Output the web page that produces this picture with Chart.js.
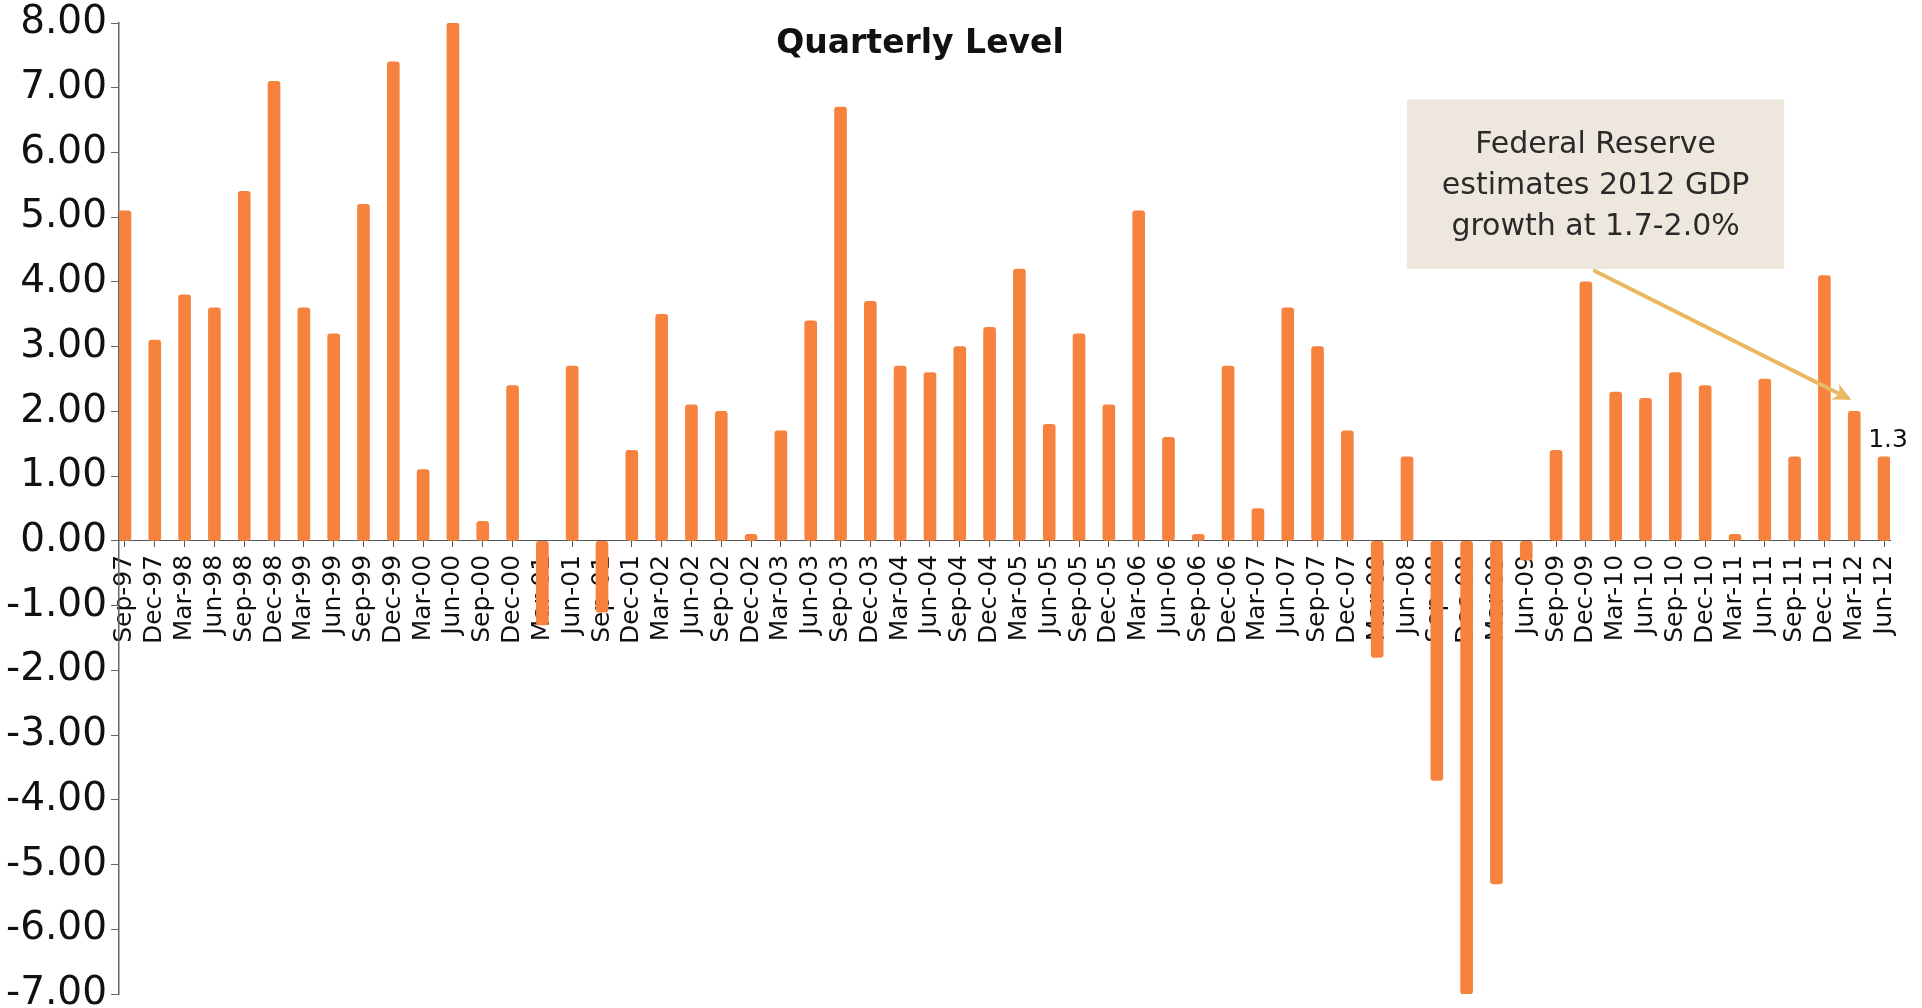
<!DOCTYPE html>
<html>
<head>
<meta charset="utf-8">
<title>Quarterly Level</title>
<script src="https://cdn.jsdelivr.net/npm/chart.js@4.4.1/dist/chart.umd.min.js"></script>
<style>
  html, body { margin: 0; padding: 0; background: #fff; }
  #wrap { position: relative; width: 1922px; height: 1008px; }
</style>
</head>
<body>
<div id="wrap"><canvas id="graph"></canvas></div>
<script>
// quarter labels, Sep-97 .. Jun-12
const quarters = [
  'Sep-97','Dec-97','Mar-98','Jun-98','Sep-98','Dec-98','Mar-99','Jun-99','Sep-99','Dec-99',
  'Mar-00','Jun-00','Sep-00','Dec-00','Mar-01','Jun-01','Sep-01','Dec-01','Mar-02','Jun-02',
  'Sep-02','Dec-02','Mar-03','Jun-03','Sep-03','Dec-03','Mar-04','Jun-04','Sep-04','Dec-04',
  'Mar-05','Jun-05','Sep-05','Dec-05','Mar-06','Jun-06','Sep-06','Dec-06','Mar-07','Jun-07',
  'Sep-07','Dec-07','Mar-08','Jun-08','Sep-08','Dec-08','Mar-09','Jun-09','Sep-09','Dec-09',
  'Mar-10','Jun-10','Sep-10','Dec-10','Mar-11','Jun-11','Sep-11','Dec-11','Mar-12','Jun-12'
];

// quarterly GDP growth, annualised %
const gdpGrowth = [
  5.1, 3.1, 3.8, 3.6, 5.4, 7.1, 3.6, 3.2, 5.2, 7.4,
  1.1, 8.0, 0.3, 2.4, -1.3, 2.7, -1.1, 1.4, 3.5, 2.1,
  2.0, 0.1, 1.7, 3.4, 6.7, 3.7, 2.7, 2.6, 3.0, 3.3,
  4.2, 1.8, 3.2, 2.1, 5.1, 1.6, 0.1, 2.7, 0.5, 3.6,
  3.0, 1.7, -1.8, 1.3, -3.7, -7.0, -5.3, -0.3, 1.4, 4.0,
  2.3, 2.2, 2.6, 2.4, 0.1, 2.5, 1.3, 4.1, 2.0, 1.3
];

const yTicks = [-7, -6, -5, -4, -3, -2, -1, 0, 1, 2, 3, 4, 5, 6, 7, 8];

const chartTitle = 'Quarterly Level';
const noteLines = ['Federal Reserve', 'estimates 2012 GDP', 'growth at 1.7-2.0%'];

const FONT = '"DejaVu Sans", Verdana, sans-serif';
const ORANGE = '#F6823E';

// callout placement in scale units (category index, value)
const note = {
  box: { x0: 43.0, x1: 55.65, y0: 6.82, y1: 4.2 },
  arrowFrom: { x: 49.3, y: 4.17 },
  arrowTo: { x: 57.9, y: 2.18 }
};

const extras = {
  id: 'extras',
  afterDatasetsDraw(chart) {
    const { ctx, scales: { x, y } } = chart;
    ctx.save();

    // title
    ctx.fillStyle = '#111';
    ctx.font = 'bold 33px ' + FONT;
    ctx.textAlign = 'center';
    ctx.textBaseline = 'middle';
    ctx.fillText(chartTitle, 920, 44);

    // callout box
    const bx0 = x.getPixelForValue(note.box.x0), bx1 = x.getPixelForValue(note.box.x1);
    const by0 = y.getPixelForValue(note.box.y0), by1 = y.getPixelForValue(note.box.y1);
    ctx.fillStyle = '#EEE7DD';
    ctx.fillRect(bx0, by0, bx1 - bx0, by1 - by0);
    ctx.fillStyle = '#2a2a2a';
    ctx.font = '30px ' + FONT;
    const cx = (bx0 + bx1) / 2;
    noteLines.forEach((line, i) => {
      ctx.fillText(line, cx, by0 + 46 + i * 41);
    });

    // arrow
    const ax0 = x.getPixelForValue(note.arrowFrom.x), ay0 = y.getPixelForValue(note.arrowFrom.y);
    const ax1 = x.getPixelForValue(note.arrowTo.x), ay1 = y.getPixelForValue(note.arrowTo.y);
    const ang = Math.atan2(ay1 - ay0, ax1 - ax0);
    ctx.strokeStyle = '#E8B862';
    ctx.lineWidth = 4;
    ctx.lineCap = 'round';
    ctx.beginPath();
    ctx.moveTo(ax0, ay0);
    ctx.lineTo(ax1 - 4 * Math.cos(ang), ay1 - 4 * Math.sin(ang));
    ctx.stroke();
    ctx.fillStyle = '#E8B862';
    ctx.beginPath();
    ctx.moveTo(ax1, ay1);
    ctx.lineTo(ax1 - 20 * Math.cos(ang - 0.45), ay1 - 20 * Math.sin(ang - 0.45));
    ctx.lineTo(ax1 - 13 * Math.cos(ang), ay1 - 13 * Math.sin(ang));
    ctx.lineTo(ax1 - 20 * Math.cos(ang + 0.45), ay1 - 20 * Math.sin(ang + 0.45));
    ctx.closePath();
    ctx.fill();

    // value label on the latest quarter
    const meta = chart.getDatasetMeta(0);
    const last = meta.data[meta.data.length - 1];
    ctx.fillStyle = '#111';
    ctx.font = '25px ' + FONT;
    ctx.textBaseline = 'alphabetic';
    ctx.fillText(gdpGrowth[gdpGrowth.length - 1].toFixed(1), last.x + 4, last.y - 10);

    ctx.restore();
  }
};

const cfg = {
  type: 'bar',
  data: {
    datasets: [{
      label: 'GDP growth',
      data: gdpGrowth.map((v, i) => ({ x: i, y: v })),
      backgroundColor: ORANGE,
      borderWidth: 0,
      barThickness: 12,
      borderRadius: 3,
      borderSkipped: false
    }]
  },
  options: {
    responsive: true,
    maintainAspectRatio: false,
    animation: false,
    layout: { padding: { top: 23, right: 32, bottom: 14, left: 0 } },
    plugins: {
      legend: { display: false },
      title: { display: false },
      tooltip: { enabled: false }
    },
    scales: {
      x: {
        type: 'linear',
        position: { y: 0 },
        offset: false,
        min: -0.2,
        max: 59.2,
        afterFit(scale) {
          scale.height = 0;
          scale.paddingLeft = 0;
          scale.paddingRight = 0;
        },
        grid: { offset: false, drawOnChartArea: false, tickLength: 6, color: '#555' },
        border: { display: true, color: '#555', width: 1 },
        ticks: {
          stepSize: 1,
          includeBounds: false,
          autoSkip: false,
          maxTicksLimit: 100,
          minRotation: 90,
          maxRotation: 90,
          padding: 8,
          color: '#111',
          font: { family: FONT, size: 25 },
          callback: v => Number.isInteger(v) ? quarters[v] : ''
        }
      },
      y: {
        min: yTicks[0],
        max: yTicks[yTicks.length - 1],
        afterFit(scale) {
          scale.width = 119;
          scale.paddingTop = 0;
          scale.paddingBottom = 0;
        },
        grid: { drawOnChartArea: false, tickLength: 8, color: '#666' },
        border: { display: true, color: '#666', width: 1.5 },
        ticks: {
          stepSize: 1,
          padding: 4,
          color: '#111',
          font: { family: FONT, size: 39, lineHeight: 1 },
          callback: v => v.toFixed(2)
        }
      }
    }
  },
  plugins: [extras]
};

new Chart(document.querySelector('#graph'), cfg);
</script>
</body>
</html>
